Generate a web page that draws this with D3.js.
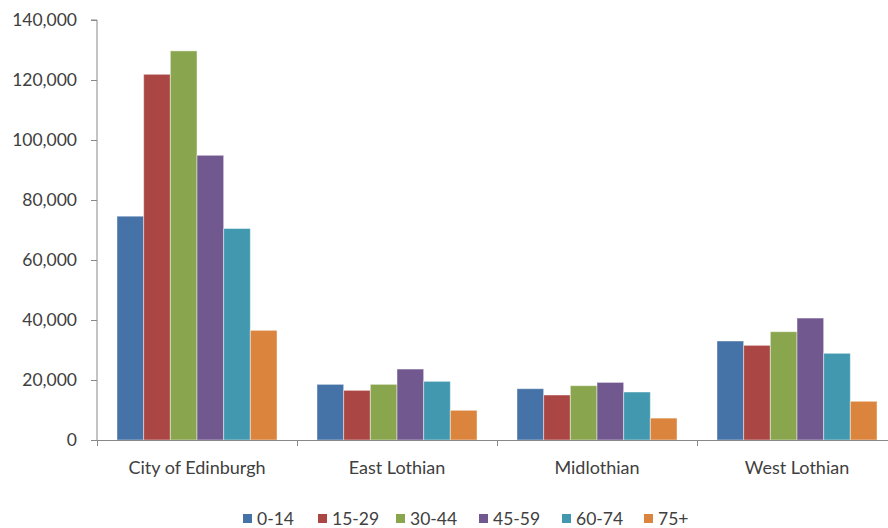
<!DOCTYPE html>
<html><head><meta charset="utf-8">
<script src="https://cdn.jsdelivr.net/npm/d3@7"></script>
<style>body{margin:0;background:#fff}svg{display:block}</style>
</head><body>
<svg id="c" width="888" height="528"></svg>
<script>
const categories = ["City of Edinburgh","East Lothian","Midlothian","West Lothian"];
const seriesNames = ["0-14","15-29","30-44","45-59","60-74","75+"];
const colors = ["#4572A7","#AA4643","#89A54E","#71588F","#4198AF","#DB843D"];
const v0_14  = [74600, 18550, 17100, 33000];
const v15_29 = [121900, 16550, 15000, 31550];
const v30_44 = [129700, 18550, 18100, 36100];
const v45_59 = [94900, 23650, 19200, 40650];
const v60_74 = [70500, 19550, 16000, 28900];
const v75p   = [36550, 9900, 7300, 12900];
const yTicks = [0,20000,40000,60000,80000,100000,120000,140000];
const seriesValues = [v0_14,v15_29,v30_44,v45_59,v60_74,v75p];

(function(){
const svg = d3.select("#c");
const pL = 97, pR = 897, pT = 20, pB = 440;
const font = "Lato, 'Open Sans', sans-serif";
const txt = "#404040", axisCol = "#888888";

const x0 = d3.scaleBand().domain(categories).range([pL,pR]).paddingInner(0.2).paddingOuter(0.1);
const x1 = d3.scaleBand().domain(seriesNames).range([0,x0.bandwidth()]);
const y = d3.scaleLinear().domain([0,140000]).range([pB,pT]);

// bars
const g = svg.append("g");
seriesNames.forEach((s,si)=>{
  g.selectAll(null).data(categories).enter().append("rect")
   .attr("x",c=>x0(c)+x1(s))
   .attr("y",(c,ci)=>y(seriesValues[si][ci]))
   .attr("width",x1.bandwidth())
   .attr("height",(c,ci)=>pB-y(seriesValues[si][ci]))
   .attr("fill",colors[si])
   .attr("stroke","rgba(255,255,255,0.45)").attr("stroke-width",1);
});

// y axis
const fmt = d3.format(",");
const ya = svg.append("g").attr("transform",`translate(${pL},0)`)
  .call(d3.axisLeft(y).tickValues(yTicks).tickFormat(d=>fmt(d)).tickSize(6).tickPadding(14));
ya.select(".domain").attr("stroke",axisCol).attr("d",`M-6,${pT}H0V${pB}`);
ya.selectAll(".tick line").attr("stroke",axisCol);
ya.selectAll("text").attr("fill",txt).style("font-family",font).style("font-size","17.5px");

// x axis
const bounds = categories.map(c=>x0(c)-x0.step()*x0.paddingInner()/2).concat([pR]);
const xa = svg.append("g");
xa.append("line").attr("x1",pL).attr("x2",pR).attr("y1",pB+0.5).attr("y2",pB+0.5).attr("stroke",axisCol);
xa.selectAll(null).data(bounds).enter().append("line")
  .attr("x1",d=>Math.round(d)+0.5).attr("x2",d=>Math.round(d)+0.5).attr("y1",pB).attr("y2",pB+6).attr("stroke",axisCol);
xa.selectAll(null).data(categories).enter().append("text")
  .attr("x",c=>x0(c)+x0.bandwidth()/2).attr("y",474)
  .attr("text-anchor","middle").attr("fill",txt)
  .style("font-family",font).style("font-size","18px").text(c=>c);

// legend
const legX = [243,318,396,479,562,644];
const lg = svg.append("g");
seriesNames.forEach((s,i)=>{
  lg.append("rect").attr("x",legX[i]).attr("y",514).attr("width",9).attr("height",9).attr("fill",colors[i]);
  lg.append("text").attr("x",legX[i]+14).attr("y",525).attr("fill",txt)
    .style("font-family",font).style("font-size","17.5px").text(s);
});
})();
</script>
</body></html>
